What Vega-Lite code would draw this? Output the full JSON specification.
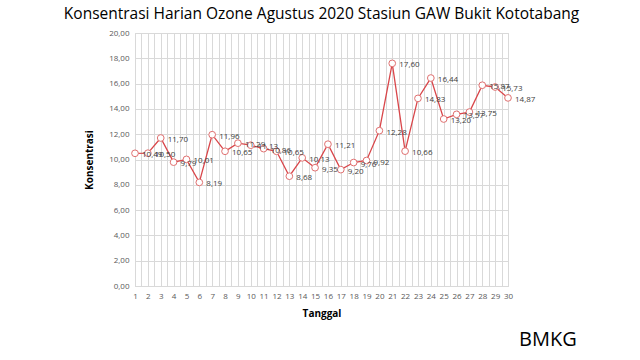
{
  "$schema": "https://vega.github.io/schema/vega-lite/v6.json",
  "width": 373,
  "height": 253,
  "autosize": {"type": "none"},
  "padding": {"left": 135, "top": 33, "right": 132, "bottom": 74},
  "background": "white",
  "title": {
    "text": "Konsentrasi Harian Ozone Agustus 2020 Stasiun GAW Bukit Kototabang",
    "font": "Open Sans",
    "fontSize": 15.5,
    "fontWeight": "normal",
    "color": "#000000",
    "anchor": "middle",
    "offset": 7
  },
  "config": {
    "view": {"stroke": "#d9d9d9"},
    "axis": {
      "labelFont": "Open Sans",
      "labelFontSize": 8,
      "labelColor": "#595959",
      "titleFont": "Open Sans",
      "titleFontSize": 10,
      "titleFontWeight": "bold",
      "titleColor": "#000000",
      "gridColor": "#d9d9d9",
      "domainColor": "#d9d9d9",
      "ticks": false
    }
  },
  "resolve": {"axis": {"x": "independent", "y": "independent"}},
  "layer": [
    {
      "data": {
        "values": [
          {"tanggal": 1, "v": 10.49}, {"tanggal": 2, "v": 10.50}, {"tanggal": 3, "v": 11.70},
          {"tanggal": 4, "v": 9.79}, {"tanggal": 5, "v": 10.01}, {"tanggal": 6, "v": 8.19},
          {"tanggal": 7, "v": 11.96}, {"tanggal": 8, "v": 10.65}, {"tanggal": 9, "v": 11.29},
          {"tanggal": 10, "v": 11.13}, {"tanggal": 11, "v": 10.86}, {"tanggal": 12, "v": 10.65},
          {"tanggal": 13, "v": 8.68}, {"tanggal": 14, "v": 10.13}, {"tanggal": 15, "v": 9.35},
          {"tanggal": 16, "v": 11.21}, {"tanggal": 17, "v": 9.20}, {"tanggal": 18, "v": 9.76},
          {"tanggal": 19, "v": 9.92}, {"tanggal": 20, "v": 12.28}, {"tanggal": 21, "v": 17.60},
          {"tanggal": 22, "v": 10.66}, {"tanggal": 23, "v": 14.83}, {"tanggal": 24, "v": 16.44},
          {"tanggal": 25, "v": 13.20}, {"tanggal": 26, "v": 13.57}, {"tanggal": 27, "v": 13.75},
          {"tanggal": 28, "v": 15.87}, {"tanggal": 29, "v": 15.73}, {"tanggal": 30, "v": 14.87}
        ]
      },
      "transform": [
        {"calculate": "replace(format(datum.v, '.2f'), '.', ',')", "as": "label"}
      ],
      "encoding": {
        "x": {
          "field": "tanggal",
          "type": "quantitative",
          "scale": {"domain": [1, 30], "nice": false, "zero": false},
          "axis": {
            "title": "Tanggal",
            "values": [1,1.5,2,2.5,3,3.5,4,4.5,5,5.5,6,6.5,7,7.5,8,8.5,9,9.5,10,10.5,11,11.5,12,12.5,13,13.5,14,14.5,15,15.5,16,16.5,17,17.5,18,18.5,19,19.5,20,20.5,21,21.5,22,22.5,23,23.5,24,24.5,25,25.5,26,26.5,27,27.5,28,28.5,29,29.5,30],
            "labelExpr": "datum.value % 1 === 0 ? format(datum.value, 'd') : ''",
            "labelOverlap": false,
            "labelPadding": 6,
            "titlePadding": 8,
            "labelFlush": false
          }
        },
        "y": {
          "field": "v",
          "type": "quantitative",
          "scale": {"domain": [0, 20], "nice": false},
          "axis": {
            "title": "Konsentrasi",
            "values": [0,2,4,6,8,10,12,14,16,18,20],
            "labelExpr": "replace(format(datum.value, '.2f'), '.', ',')",
            "labelOverlap": false,
            "labelPadding": 6,
            "titlePadding": 14
          }
        }
      },
      "layer": [
        {"mark": {"type": "line", "color": "#d9464a", "strokeWidth": 1.3}},
        {"mark": {"type": "point", "filled": true, "fill": "white", "stroke": "#e07070", "strokeWidth": 1, "size": 45, "opacity": 1}},
        {
          "mark": {"type": "text", "align": "left", "baseline": "middle", "dx": 7, "dy": 2, "font": "Open Sans", "fontSize": 8, "color": "#404040"},
          "encoding": {"text": {"field": "label"}}
        }
      ]
    },
    {
      "data": {"values": [{"t": "BMKG", "bx": 33.1, "by": -4.3}]},
      "mark": {"type": "text", "font": "Open Sans", "fontSize": 20, "color": "#000000", "align": "center", "baseline": "middle", "clip": false},
      "encoding": {
        "x": {"field": "bx", "type": "quantitative", "axis": null},
        "y": {"field": "by", "type": "quantitative", "axis": null},
        "text": {"field": "t"}
      }
    }
  ]
}
